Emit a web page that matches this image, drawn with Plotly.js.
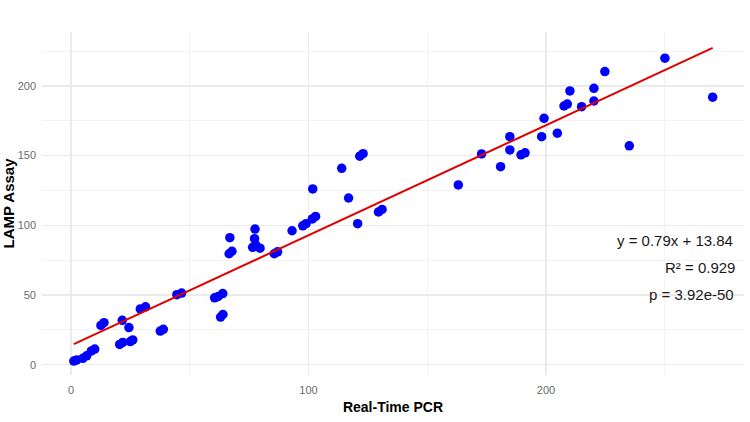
<!DOCTYPE html>
<html>
<head>
<meta charset="utf-8">
<script src="https://cdn.plot.ly/plotly-3.0.1.min.js"></script>
<style>
  html, body { margin: 0; padding: 0; background: #ffffff; }
  #chart { width: 750px; height: 422px; }
</style>
</head>
<body>
<div id="chart"></div>
<script>
// Paired measurements: Real-Time PCR (x) vs LAMP Assay (y)
const pcrValues = [
  1.2, 2.4, 5.0, 6.6, 8.6, 10.0, 12.6, 13.9, 21.6, 20.5,
  21.8, 25.0, 26.0, 24.4, 29.2, 31.4, 37.6, 38.9, 44.6, 46.6,
  60.5, 62.0, 63.9, 63.0, 64.0, 66.9, 66.6, 67.8, 77.5, 77.3,
  76.5, 77.8, 79.6, 85.6, 87.0, 93.1, 97.6, 99.0, 101.6, 103.0,
  120.7, 101.8, 114.0, 121.6, 123.0, 116.9, 129.5, 131.0, 163.1, 172.9,
  180.9, 184.8, 184.8, 189.5, 191.2, 198.2, 199.2, 204.8, 207.6, 209.0,
  210.1, 215.0, 220.2, 220.2, 224.8, 235.1, 250.1, 270.2
];
const lampValues = [
  2.6, 3.4, 4.6, 6.4, 9.9, 11.2, 28.2, 30.1, 31.8, 14.5,
  16.0, 16.6, 17.8, 26.6, 40.0, 41.5, 24.1, 25.4, 50.2, 51.4,
  48.0, 49.0, 51.0, 34.2, 36.0, 91.1, 79.6, 81.4, 97.3, 90.4,
  84.2, 86.0, 83.6, 79.6, 81.0, 96.1, 99.6, 101.2, 104.6, 106.4,
  101.2, 126.1, 140.9, 149.6, 151.4, 119.6, 109.6, 111.4, 129.0, 151.2,
  142.1, 163.6, 154.1, 150.6, 152.0, 163.6, 176.8, 166.1, 185.6, 187.0,
  196.4, 185.1, 198.3, 189.2, 210.3, 157.0, 219.9, 191.9
];

// Fitted linear model reported in the annotation
const fitSlope = 0.79;
const fitIntercept = 13.84;
const fitR2 = 0.929;
const fitP = "3.92e-50";

const xTicks = [0, 100, 200];
const yTicks = [0, 50, 100, 150, 200];

const xMin = Math.min(...pcrValues);
const xMax = Math.max(...pcrValues);
const fitX = [xMin, xMax];
const fitY = fitX.map(v => fitSlope * v + fitIntercept);

const points = {
  x: pcrValues,
  y: lampValues,
  type: 'scatter',
  mode: 'markers',
  marker: { color: '#0000ff', size: 9.5, line: { width: 0 } },
  hoverinfo: 'x+y',
  showlegend: false
};

const fitLine = {
  x: fitX,
  y: fitY,
  type: 'scatter',
  mode: 'lines',
  line: { color: '#e00000', width: 2 },
  hoverinfo: 'skip',
  showlegend: false
};

const gridMajor = '#ebebeb';
const gridMinor = '#f3f3f3';
const annFont = { family: 'Liberation Sans, Arial, sans-serif', size: 15, color: '#1a1a1a' };

const layout = {
  width: 750,
  height: 422,
  margin: { l: 42, r: 6, t: 32, b: 47 },
  paper_bgcolor: '#ffffff',
  plot_bgcolor: '#ffffff',
  font: { family: 'Liberation Sans, Arial, sans-serif' },
  xaxis: {
    range: [-12.2, 283.4],
    tickvals: xTicks,
    ticktext: xTicks.map(String),
    showgrid: true,
    gridcolor: gridMajor,
    gridwidth: 1.2,
    zeroline: false,
    showline: false,
    ticks: '',
    tickfont: { size: 11, color: '#6b6b6b' },
    ticklabelstandoff: 7,
    minor: { tickvals: [50, 150, 250], showgrid: true, gridcolor: gridMinor, gridwidth: 1 },
    title: {
      text: '<b>Real-Time PCR</b>',
      font: { size: 14, color: '#000000' },
      standoff: 7
    }
  },
  yaxis: {
    range: [-7.4, 238.7],
    tickvals: yTicks,
    ticktext: yTicks.map(String),
    showgrid: true,
    gridcolor: gridMajor,
    gridwidth: 1.2,
    zeroline: false,
    showline: false,
    ticks: '',
    tickfont: { size: 11, color: '#6b6b6b' },
    ticklabelstandoff: 5,
    minor: { tickvals: [25, 75, 125, 175, 225], showgrid: true, gridcolor: gridMinor, gridwidth: 1 },
    title: {
      text: '<b>LAMP Assay</b>',
      font: { size: 15, color: '#000000' },
      standoff: 6
    }
  },
  annotations: [
    { xref: 'paper', yref: 'paper', x: 0.987, y: 0.391, xanchor: 'right', yanchor: 'middle',
      text: 'y = ' + fitSlope + 'x + ' + fitIntercept, showarrow: false, font: annFont },
    { xref: 'paper', yref: 'paper', x: 0.99, y: 0.312, xanchor: 'right', yanchor: 'middle',
      text: 'R² = ' + fitR2, showarrow: false, font: annFont },
    { xref: 'paper', yref: 'paper', x: 0.988, y: 0.236, xanchor: 'right', yanchor: 'middle',
      text: 'p = ' + fitP, showarrow: false, font: annFont }
  ]
};

Plotly.newPlot('chart', [points, fitLine], layout, { displayModeBar: false, staticPlot: true });
</script>
</body>
</html>
